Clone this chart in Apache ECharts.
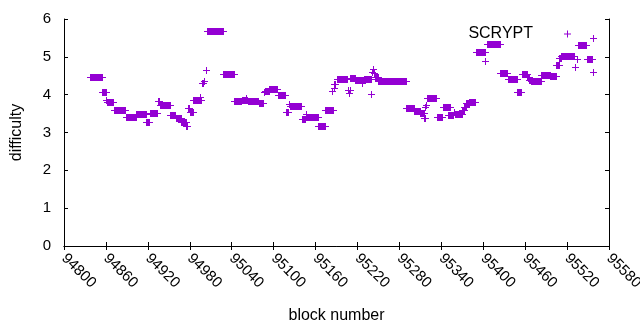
<!DOCTYPE html>
<html>
<head>
    <meta charset="utf-8">
    <title>SCRYPT difficulty</title>
    <script src="https://cdn.jsdelivr.net/npm/echarts@6/dist/echarts.min.js"></script>
</head>
<body style="margin:0">
<div id="main" style="width:640px;height:330px;"></div>
<script type="text/javascript">
    // runs of blocks with the same difficulty (start block, end block, difficulty)
    var runStart = [94837, 94854, 94860, 94862, 94871, 94889, 94903, 94918, 94923, 94934,
                    94937, 94952, 94960, 94968, 94975, 94977, 94980, 94985, 94994, 94997,
                    95000, 95003, 95005, 95028, 95044, 95055, 95060, 95063, 95079, 95086,
                    95087, 95094, 95106, 95118, 95122, 95123, 95140, 95146, 95147, 95164,
                    95174, 95184, 95186, 95187, 95190, 95206, 95208, 95209, 95210, 95217,
                    95227, 95229, 95239, 95241, 95242, 95243, 95245, 95250, 95256, 95290,
                    95301, 95309, 95315, 95317, 95318, 95319, 95334, 95342, 95350, 95358,
                    95360, 95370, 95373, 95376, 95380, 95389, 95403, 95405, 95424, 95435,
                    95449, 95455, 95463, 95466, 95469, 95483, 95496, 95504, 95509, 95512,
                    95531, 95534, 95535, 95548, 95557, 95557];
    var runEnd   = [94854, 94860, 94860, 94870, 94888, 94903, 94917, 94922, 94933, 94936,
                    94952, 94959, 94967, 94974, 94976, 94979, 94984, 94996, 94994, 94999,
                    95001, 95003, 95027, 95043, 95054, 95062, 95060, 95078, 95085, 95086,
                    95093, 95105, 95117, 95121, 95122, 95139, 95145, 95146, 95163, 95173,
                    95185, 95184, 95186, 95188, 95205, 95207, 95208, 95209, 95216, 95228,
                    95227, 95239, 95239, 95241, 95242, 95244, 95250, 95256, 95289, 95301,
                    95309, 95315, 95317, 95317, 95318, 95333, 95341, 95352, 95357, 95358,
                    95369, 95372, 95375, 95379, 95388, 95402, 95403, 95424, 95434, 95448,
                    95454, 95462, 95465, 95468, 95482, 95495, 95504, 95508, 95511, 95530,
                    95531, 95534, 95547, 95556, 95557, 95557];
    var runDiff  = [4.46, 4.07, 3.85, 3.80, 3.59, 3.42, 3.48, 3.29, 3.51, 3.83,
                    3.73, 3.46, 3.38, 3.29, 3.17, 3.65, 3.55, 3.85, 3.95, 4.30,
                    4.36, 4.65, 5.67, 4.54, 3.84, 3.86, 3.90, 3.84, 3.79, 4.08,
                    4.10, 4.15, 3.99, 3.55, 3.75, 3.70, 3.35, 3.48, 3.40, 3.17,
                    3.59, 4.10, 4.17, 4.28, 4.41, 4.13, 4.05, 4.13, 4.43, 4.39,
                    4.30, 4.41, 4.01, 4.60, 4.67, 4.58, 4.48, 4.36, 4.37, 3.64,
                    3.58, 3.51, 3.39, 3.68, 3.74, 3.90, 3.42, 3.67, 3.47, 3.55,
                    3.49, 3.60, 3.67, 3.77, 3.80, 5.12, 4.89, 5.34, 4.57, 4.41,
                    4.08, 4.54, 4.46, 4.39, 4.35, 4.52, 4.50, 4.79, 4.98, 5.03,
                    4.73, 4.94, 5.30, 4.94, 4.59, 5.49];

    var xTicks = [94800, 94860, 94920, 94980, 95040, 95100, 95160, 95220, 95280, 95340, 95400, 95460, 95520, 95580];
    var seriesName = 'SCRYPT';
    var purple = '#9400d3';
    var font = "'Liberation Sans', Arial, sans-serif";

    var points = [];
    for (var i = 0; i < runStart.length; i++) {
        points.push([runStart[i], runEnd[i], runDiff[i]]);
    }

    var myChart = echarts.init(document.getElementById('main'));

    // every block is a '+' : a run of them looks like a filled bar with arms
    function drawRun(params, api) {
        var p1 = api.coord([api.value(0), api.value(2)]);
        var p2 = api.coord([api.value(1), api.value(2)]);
        var x1 = Math.round(p1[0]), x2 = Math.round(p2[0]), y = Math.round(p1[1]);
        return {
            type: 'group',
            children: [
                { type: 'rect', shape: { x: x1, y: y - 3, width: x2 - x1 + 1, height: 7 },
                  style: { fill: purple } },
                { type: 'line', shape: { x1: x1 - 3, y1: y + 0.5, x2: x2 + 4, y2: y + 0.5 },
                  style: { stroke: purple, lineWidth: 1 } }
            ]
        };
    }

    var axisCommon = {
        type: 'value',
        axisLine: { show: true, lineStyle: { color: '#000', width: 1 } },
        axisTick: { show: true, inside: true, length: 4, lineStyle: { color: '#000' } },
        splitLine: { show: false }
    };

    myChart.setOption({
        animation: false,
        textStyle: { fontFamily: font },
        grid: { left: 64, right: 31, top: 19, bottom: 84, containLabel: false, outerBoundsMode: 'none' },
        legend: {
            data: [{ name: seriesName, icon: 'path://M0,3L3,3L3,0L4,0L4,3L7,3L7,4L4,4L4,7L3,7L3,4L0,4Z' }],
            right: 69, top: 26, padding: 0,
            align: 'right',
            itemWidth: 7, itemHeight: 7,
            textStyle: { fontSize: 16, color: '#000', fontFamily: font, padding: [0, 26, 0, 0] }
        },
        xAxis: [
            Object.assign({}, axisCommon, {
                min: xTicks[0], max: xTicks[xTicks.length - 1], interval: 60,
                position: 'bottom',
                name: 'block number', nameLocation: 'middle', nameGap: 62,
                nameTextStyle: { fontSize: 16, color: '#000' },
                axisLabel: {
                    rotate: -45, fontSize: 15, color: '#000', margin: 10,
                    showMinLabel: true, showMaxLabel: true,
                    formatter: function (v) { return String(v); }
                }
            }),
            Object.assign({}, axisCommon, {
                min: xTicks[0], max: xTicks[xTicks.length - 1], interval: 60,
                position: 'top', axisLabel: { show: false }
            })
        ],
        yAxis: [
            Object.assign({}, axisCommon, {
                min: 0, max: 6, interval: 1, position: 'left',
                name: 'difficulty', nameLocation: 'middle', nameGap: 39,
                nameTextStyle: { fontSize: 16, color: '#000' },
                axisLabel: { fontSize: 15, color: '#000', margin: 13 }
            }),
            Object.assign({}, axisCommon, {
                min: 0, max: 6, interval: 1, position: 'right', axisLabel: { show: false }
            })
        ],
        series: [{
            name: seriesName,
            type: 'custom',
            renderItem: drawRun,
            itemStyle: { color: purple },
            encode: { x: [0, 1], y: 2 },
            data: points
        }]
    });
</script>
</body>
</html>
